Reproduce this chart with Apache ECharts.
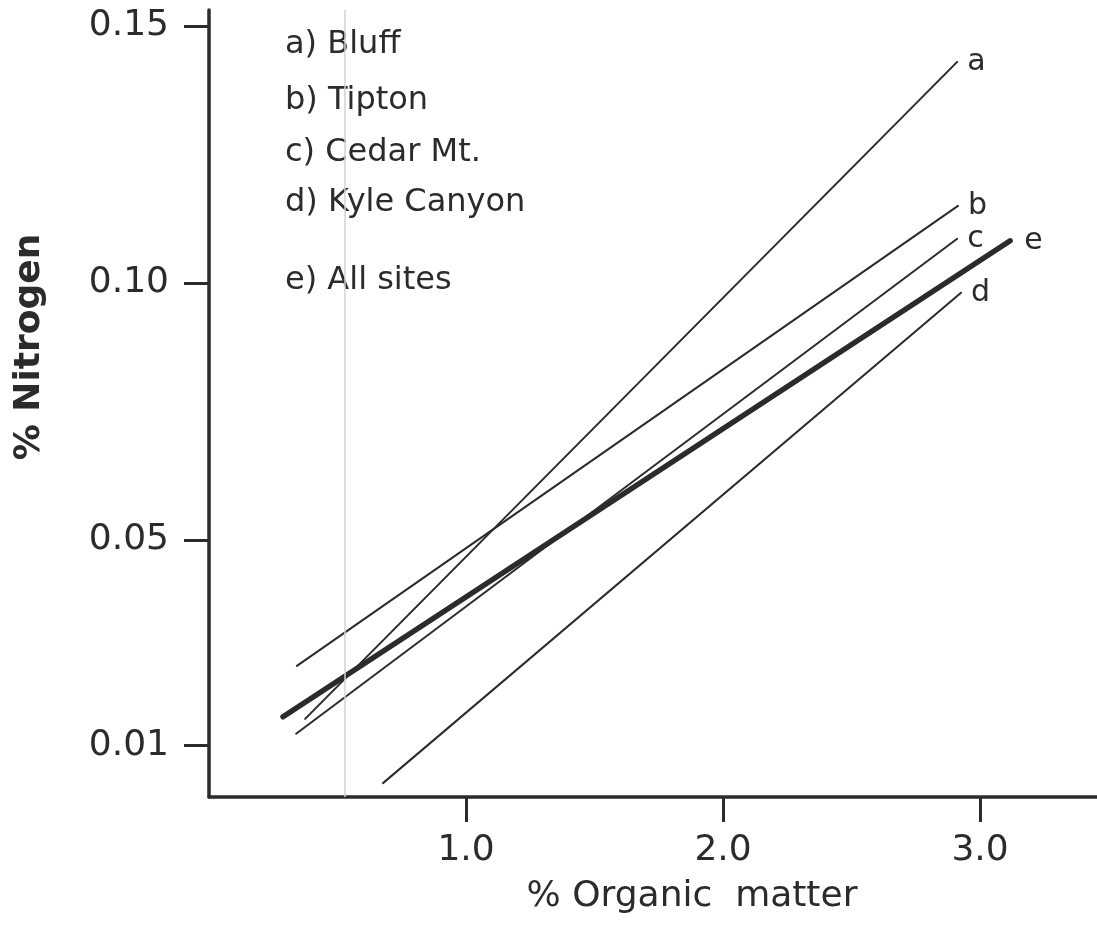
<!DOCTYPE html>
<html>
<head>
<meta charset="utf-8">
<style>
  html, body { margin: 0; padding: 0; background: #ffffff; }
  #chart { width: 1097px; height: 926px; }
</style>
<script src="https://cdn.jsdelivr.net/npm/echarts@6/dist/echarts.min.js"></script>
</head>
<body>
<div id="chart"></div>
<script>
// ---- data ----
const siteKeys  = ['a', 'b', 'c', 'd', 'e'];
const siteNames = ['a) Bluff', 'b) Tipton', 'c) Cedar Mt.', 'd) Kyle Canyon', 'e) All sites'];
const xStart = [0.374, 0.342, 0.339, 0.677, 0.288];
const yStart = [0.0152, 0.0255, 0.0123, 0.0027, 0.0156];
const xEnd   = [2.911, 2.914, 2.911, 2.926, 3.117];
const yEnd   = [0.1430, 0.1150, 0.1086, 0.0981, 0.1082];
const yTicks = [0.01, 0.05, 0.10, 0.15];
const xTicks = [1.0, 2.0, 3.0];
const xTitle = '% Organic  matter';
const yTitle = '% Nitrogen';
const scanMarkX = 0.529; // faint vertical line on the scanned page

const ink = '#2b2b2b';
const chart = echarts.init(document.getElementById('chart'), null, { renderer: 'canvas' });

const series = siteKeys.map((k, i) => ({
  type: 'line',
  name: siteNames[i],
  data: [[xStart[i], yStart[i]], [xEnd[i], yEnd[i]]],
  showSymbol: false,
  symbol: 'none',
  endLabel: {
    show: true, formatter: k, distance: k === 'e' ? 14 : 10,
    fontFamily: 'DejaVu Sans', fontSize: 30, color: ink
  },
  lineStyle: { color: ink, width: k === 'e' ? 5.5 : 2, cap: 'round' },
  silent: true,
  animation: false,
  z: k === 'e' ? 3 : 2,
  markLine: i === 0 ? {
    silent: true, symbol: 'none', label: { show: false },
    lineStyle: { color: '#d6d2c6', width: 1.5, type: 'solid' },
    data: [{ xAxis: scanMarkX }]
  } : undefined
}));

const legendTops = [47, 103, 155, 205, 283];
const graphics = siteNames.map((n, i) => ({
  type: 'text', left: 285, top: legendTops[i] - 18,
  style: { text: n, font: '32px "DejaVu Sans"', fill: ink }
}));
graphics.push({
  type: 'text', x: 30, y: 347, rotation: Math.PI / 2,
  style: { text: yTitle, font: 'bold 36px "DejaVu Sans"', fill: ink, align: 'center', verticalAlign: 'middle' }
});
graphics.push({
  type: 'text', x: 692, y: 897,
  style: { text: xTitle, font: '36px "DejaVu Sans"', fill: ink, align: 'center', verticalAlign: 'middle' }
});

chart.setOption({
  backgroundColor: '#ffffff',
  animation: false,
  grid: { left: 209, right: 0, top: 10, bottom: 129, containLabel: false },
  xAxis: {
    type: 'value', min: 0, max: 3.455,
    axisLine: { show: true, onZero: false, lineStyle: { color: ink, width: 3.5 } },
    axisTick: { show: true, inside: false, length: 25, customValues: xTicks, lineStyle: { color: ink, width: 3 } },
    axisLabel: { customValues: xTicks, formatter: v => v.toFixed(1), margin: 36,
                 fontFamily: 'DejaVu Sans', fontSize: 36, color: ink },
    splitLine: { show: false }
  },
  yAxis: {
    type: 'value', min: 0, max: 0.1531,
    axisLine: { show: true, onZero: false, lineStyle: { color: ink, width: 3.5 } },
    axisTick: { show: true, inside: false, length: 25, customValues: yTicks, lineStyle: { color: ink, width: 3 } },
    axisLabel: { customValues: yTicks, formatter: v => v.toFixed(2), margin: 40,
                 fontFamily: 'DejaVu Sans', fontSize: 36, color: ink },
    splitLine: { show: false }
  },
  graphic: graphics,
  series: series
});
</script>
</body>
</html>
